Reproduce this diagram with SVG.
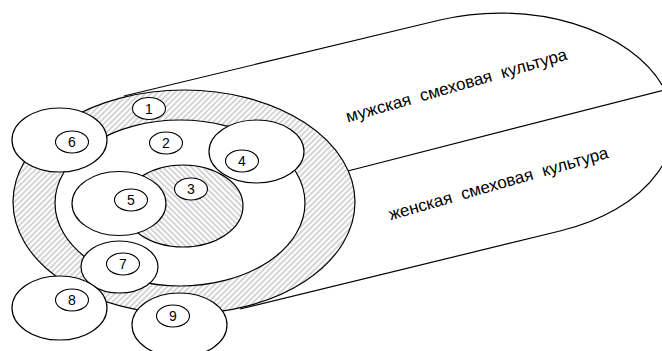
<svg xmlns="http://www.w3.org/2000/svg" width="662" height="351" viewBox="0 0 662 351">
<defs>
<pattern id="hatchR" width="4" height="4" patternUnits="userSpaceOnUse" patternTransform="rotate(45)">
<rect width="4" height="4" fill="#ffffff"/>
<line x1="1" y1="0" x2="1" y2="4" stroke="#c8c8c8" stroke-width="1.5"/>
</pattern>
<pattern id="hatchL" width="4" height="4" patternUnits="userSpaceOnUse" patternTransform="rotate(-45)">
<rect width="4" height="4" fill="#ffffff"/>
<line x1="1" y1="0" x2="1" y2="4" stroke="#c8c8c8" stroke-width="1.5"/>
</pattern>
</defs>
<style>
.ln{fill:none;stroke:#000;stroke-width:1.2}
.w{fill:#fff;stroke:#000;stroke-width:1.2}
.lbl{fill:#fff;stroke:#000;stroke-width:1.1}
.num{font-family:"Liberation Sans",Arial,sans-serif;font-size:14px;fill:#000;text-anchor:middle}
.cap{font-family:"Liberation Sans",Arial,sans-serif;font-size:17px;fill:#000;text-anchor:middle;word-spacing:5px}
</style>
<rect width="662" height="351" fill="#fff"/>
<g id="tube">
<path class="ln" d="M124,96 L440,20 A173 112 0 1 1 560,231 L240,309"/>
<path class="ln" d="M340,173 L664,90"/>
</g>
<g id="ring">
<ellipse cx="184" cy="202" rx="171" ry="112" fill="url(#hatchR)" stroke="#000" stroke-width="1.2"/>
</g>
<g id="inner">
<ellipse class="w" cx="180" cy="203" rx="125" ry="83"/>
</g>
<g id="n3">
<ellipse cx="183" cy="206" rx="60" ry="41" fill="url(#hatchL)" stroke="#000" stroke-width="1.2"/>
</g>
<g id="n5"><ellipse class="w" cx="119" cy="203.5" rx="47" ry="32"/></g>
<g id="n4"><ellipse class="w" cx="256.5" cy="151.5" rx="47.5" ry="31.5"/></g>
<g id="n6"><ellipse class="w" cx="59.5" cy="140" rx="47.5" ry="32"/></g>
<g id="n7"><ellipse class="w" cx="119.5" cy="267" rx="38.5" ry="26"/></g>
<g id="n8"><ellipse class="w" cx="59.5" cy="308" rx="47.5" ry="32"/></g>
<g id="n9"><ellipse class="w" cx="179.5" cy="325" rx="47.5" ry="32"/></g>
<g id="labels">
<g id="l1"><ellipse class="lbl" cx="149" cy="108.5" rx="16.5" ry="11"/><text class="num" x="149" y="113.5">1</text></g>
<g id="l2"><ellipse class="lbl" cx="166" cy="143" rx="16.5" ry="11"/><text class="num" x="166" y="148">2</text></g>
<g id="l3"><ellipse class="lbl" cx="191" cy="189" rx="16.5" ry="11"/><text class="num" x="191" y="194">3</text></g>
<g id="l4"><ellipse class="lbl" cx="242" cy="161" rx="16.5" ry="11"/><text class="num" x="242" y="166">4</text></g>
<g id="l5"><ellipse class="lbl" cx="131" cy="200" rx="16.5" ry="11"/><text class="num" x="131" y="205">5</text></g>
<g id="l6"><ellipse class="lbl" cx="72" cy="142" rx="16.5" ry="11"/><text class="num" x="72" y="147">6</text></g>
<g id="l7"><ellipse class="lbl" cx="123" cy="264" rx="16.5" ry="11"/><text class="num" x="123" y="269">7</text></g>
<g id="l8"><ellipse class="lbl" cx="72" cy="300" rx="16.5" ry="11"/><text class="num" x="72" y="305">8</text></g>
<g id="l9"><ellipse class="lbl" cx="173" cy="316" rx="16.5" ry="11"/><text class="num" x="173" y="321">9</text></g>
</g>
<g id="texts">
<text class="cap" transform="translate(458,91) rotate(-16)">мужская смеховая культура</text>
<text class="cap" transform="translate(500,189) rotate(-16)">женская смеховая культура</text>
</g>
</svg>
